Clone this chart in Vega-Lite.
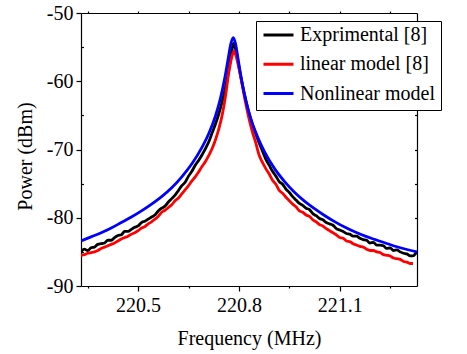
{
  "$schema": "https://vega.github.io/schema/vega-lite/v6.json",
  "width": 336,
  "height": 273,
  "autosize": {"type": "none"},
  "padding": {"left": 81, "top": 13, "right": 50, "bottom": 68},
  "background": "white",
  "config": {
    "view": {"stroke": null},
    "font": "Liberation Serif",
    "axis": {"domainColor": "black", "tickColor": "black", "labelColor": "black", "titleColor": "black", "grid": false, "domainWidth": 1.2, "tickWidth": 1.2, "labelFont": "Liberation Serif", "titleFont": "Liberation Serif"},
    "legend": {"labelFont": "Liberation Serif"}
  },
  "datasets": {
    "curves": [
      {"f": 220.33, "p": -85.0, "s": "Exprimental [8]"},
      {"f": 220.34, "p": -84.6, "s": "Exprimental [8]"},
      {"f": 220.35, "p": -84.8, "s": "Exprimental [8]"},
      {"f": 220.36, "p": -84.4, "s": "Exprimental [8]"},
      {"f": 220.37, "p": -84.3, "s": "Exprimental [8]"},
      {"f": 220.38, "p": -83.9, "s": "Exprimental [8]"},
      {"f": 220.39, "p": -83.8, "s": "Exprimental [8]"},
      {"f": 220.40, "p": -83.7, "s": "Exprimental [8]"},
      {"f": 220.41, "p": -83.3, "s": "Exprimental [8]"},
      {"f": 220.42, "p": -83.3, "s": "Exprimental [8]"},
      {"f": 220.43, "p": -82.9, "s": "Exprimental [8]"},
      {"f": 220.44, "p": -82.6, "s": "Exprimental [8]"},
      {"f": 220.45, "p": -82.5, "s": "Exprimental [8]"},
      {"f": 220.46, "p": -82.0, "s": "Exprimental [8]"},
      {"f": 220.47, "p": -82.0, "s": "Exprimental [8]"},
      {"f": 220.48, "p": -81.7, "s": "Exprimental [8]"},
      {"f": 220.49, "p": -81.4, "s": "Exprimental [8]"},
      {"f": 220.50, "p": -81.2, "s": "Exprimental [8]"},
      {"f": 220.51, "p": -80.7, "s": "Exprimental [8]"},
      {"f": 220.52, "p": -80.5, "s": "Exprimental [8]"},
      {"f": 220.53, "p": -80.2, "s": "Exprimental [8]"},
      {"f": 220.54, "p": -79.9, "s": "Exprimental [8]"},
      {"f": 220.55, "p": -79.6, "s": "Exprimental [8]"},
      {"f": 220.56, "p": -79.0, "s": "Exprimental [8]"},
      {"f": 220.57, "p": -78.6, "s": "Exprimental [8]"},
      {"f": 220.58, "p": -78.3, "s": "Exprimental [8]"},
      {"f": 220.59, "p": -77.7, "s": "Exprimental [8]"},
      {"f": 220.60, "p": -77.2, "s": "Exprimental [8]"},
      {"f": 220.61, "p": -76.7, "s": "Exprimental [8]"},
      {"f": 220.62, "p": -76.0, "s": "Exprimental [8]"},
      {"f": 220.63, "p": -75.3, "s": "Exprimental [8]"},
      {"f": 220.64, "p": -74.8, "s": "Exprimental [8]"},
      {"f": 220.65, "p": -73.9, "s": "Exprimental [8]"},
      {"f": 220.66, "p": -73.2, "s": "Exprimental [8]"},
      {"f": 220.67, "p": -72.3, "s": "Exprimental [8]"},
      {"f": 220.68, "p": -71.6, "s": "Exprimental [8]"},
      {"f": 220.69, "p": -70.8, "s": "Exprimental [8]"},
      {"f": 220.70, "p": -69.9, "s": "Exprimental [8]"},
      {"f": 220.71, "p": -68.9, "s": "Exprimental [8]"},
      {"f": 220.72, "p": -67.6, "s": "Exprimental [8]"},
      {"f": 220.73, "p": -66.3, "s": "Exprimental [8]"},
      {"f": 220.74, "p": -64.8, "s": "Exprimental [8]"},
      {"f": 220.75, "p": -63.0, "s": "Exprimental [8]"},
      {"f": 220.76, "p": -60.9, "s": "Exprimental [8]"},
      {"f": 220.77, "p": -58.3, "s": "Exprimental [8]"},
      {"f": 220.778, "p": -55.8, "s": "Exprimental [8]"},
      {"f": 220.784, "p": -54.4, "s": "Exprimental [8]"},
      {"f": 220.79, "p": -55.3, "s": "Exprimental [8]"},
      {"f": 220.797, "p": -57.0, "s": "Exprimental [8]"},
      {"f": 220.805, "p": -59.2, "s": "Exprimental [8]"},
      {"f": 220.815, "p": -61.6, "s": "Exprimental [8]"},
      {"f": 220.828, "p": -64.3, "s": "Exprimental [8]"},
      {"f": 220.84, "p": -66.3, "s": "Exprimental [8]"},
      {"f": 220.85, "p": -67.7, "s": "Exprimental [8]"},
      {"f": 220.86, "p": -69.0, "s": "Exprimental [8]"},
      {"f": 220.87, "p": -70.2, "s": "Exprimental [8]"},
      {"f": 220.88, "p": -71.4, "s": "Exprimental [8]"},
      {"f": 220.89, "p": -72.3, "s": "Exprimental [8]"},
      {"f": 220.90, "p": -73.2, "s": "Exprimental [8]"},
      {"f": 220.91, "p": -73.9, "s": "Exprimental [8]"},
      {"f": 220.92, "p": -74.7, "s": "Exprimental [8]"},
      {"f": 220.93, "p": -75.1, "s": "Exprimental [8]"},
      {"f": 220.94, "p": -75.8, "s": "Exprimental [8]"},
      {"f": 220.95, "p": -76.3, "s": "Exprimental [8]"},
      {"f": 220.96, "p": -76.9, "s": "Exprimental [8]"},
      {"f": 220.97, "p": -77.4, "s": "Exprimental [8]"},
      {"f": 220.98, "p": -77.9, "s": "Exprimental [8]"},
      {"f": 220.99, "p": -78.2, "s": "Exprimental [8]"},
      {"f": 221.00, "p": -78.6, "s": "Exprimental [8]"},
      {"f": 221.01, "p": -78.8, "s": "Exprimental [8]"},
      {"f": 221.02, "p": -79.4, "s": "Exprimental [8]"},
      {"f": 221.03, "p": -79.7, "s": "Exprimental [8]"},
      {"f": 221.04, "p": -80.1, "s": "Exprimental [8]"},
      {"f": 221.05, "p": -80.3, "s": "Exprimental [8]"},
      {"f": 221.06, "p": -80.7, "s": "Exprimental [8]"},
      {"f": 221.07, "p": -80.9, "s": "Exprimental [8]"},
      {"f": 221.08, "p": -81.1, "s": "Exprimental [8]"},
      {"f": 221.09, "p": -81.6, "s": "Exprimental [8]"},
      {"f": 221.10, "p": -81.8, "s": "Exprimental [8]"},
      {"f": 221.11, "p": -82.0, "s": "Exprimental [8]"},
      {"f": 221.12, "p": -82.3, "s": "Exprimental [8]"},
      {"f": 221.13, "p": -82.4, "s": "Exprimental [8]"},
      {"f": 221.14, "p": -82.7, "s": "Exprimental [8]"},
      {"f": 221.15, "p": -82.7, "s": "Exprimental [8]"},
      {"f": 221.16, "p": -83.0, "s": "Exprimental [8]"},
      {"f": 221.17, "p": -83.2, "s": "Exprimental [8]"},
      {"f": 221.18, "p": -83.3, "s": "Exprimental [8]"},
      {"f": 221.19, "p": -83.7, "s": "Exprimental [8]"},
      {"f": 221.20, "p": -83.6, "s": "Exprimental [8]"},
      {"f": 221.21, "p": -84.0, "s": "Exprimental [8]"},
      {"f": 221.22, "p": -84.0, "s": "Exprimental [8]"},
      {"f": 221.23, "p": -84.1, "s": "Exprimental [8]"},
      {"f": 221.24, "p": -84.5, "s": "Exprimental [8]"},
      {"f": 221.25, "p": -84.4, "s": "Exprimental [8]"},
      {"f": 221.26, "p": -84.8, "s": "Exprimental [8]"},
      {"f": 221.27, "p": -84.7, "s": "Exprimental [8]"},
      {"f": 221.28, "p": -85.0, "s": "Exprimental [8]"},
      {"f": 221.29, "p": -85.2, "s": "Exprimental [8]"},
      {"f": 221.30, "p": -85.3, "s": "Exprimental [8]"},
      {"f": 221.31, "p": -85.6, "s": "Exprimental [8]"},
      {"f": 221.318, "p": -85.6, "s": "Exprimental [8]"},
      {"f": 221.325, "p": -85.3, "s": "Exprimental [8]"},
      {"f": 221.33, "p": -84.9, "s": "Exprimental [8]"},

      {"f": 220.33, "p": -85.5, "s": "linear model [8]"},
      {"f": 220.34, "p": -85.4, "s": "linear model [8]"},
      {"f": 220.35, "p": -85.2, "s": "linear model [8]"},
      {"f": 220.36, "p": -85.1, "s": "linear model [8]"},
      {"f": 220.37, "p": -85.0, "s": "linear model [8]"},
      {"f": 220.38, "p": -84.8, "s": "linear model [8]"},
      {"f": 220.39, "p": -84.5, "s": "linear model [8]"},
      {"f": 220.40, "p": -84.3, "s": "linear model [8]"},
      {"f": 220.41, "p": -84.1, "s": "linear model [8]"},
      {"f": 220.42, "p": -83.9, "s": "linear model [8]"},
      {"f": 220.43, "p": -83.7, "s": "linear model [8]"},
      {"f": 220.44, "p": -83.4, "s": "linear model [8]"},
      {"f": 220.45, "p": -83.1, "s": "linear model [8]"},
      {"f": 220.46, "p": -82.9, "s": "linear model [8]"},
      {"f": 220.47, "p": -82.7, "s": "linear model [8]"},
      {"f": 220.48, "p": -82.4, "s": "linear model [8]"},
      {"f": 220.49, "p": -82.2, "s": "linear model [8]"},
      {"f": 220.50, "p": -81.9, "s": "linear model [8]"},
      {"f": 220.51, "p": -81.5, "s": "linear model [8]"},
      {"f": 220.52, "p": -81.3, "s": "linear model [8]"},
      {"f": 220.53, "p": -80.9, "s": "linear model [8]"},
      {"f": 220.54, "p": -80.6, "s": "linear model [8]"},
      {"f": 220.55, "p": -80.2, "s": "linear model [8]"},
      {"f": 220.56, "p": -79.8, "s": "linear model [8]"},
      {"f": 220.57, "p": -79.2, "s": "linear model [8]"},
      {"f": 220.58, "p": -78.9, "s": "linear model [8]"},
      {"f": 220.59, "p": -78.5, "s": "linear model [8]"},
      {"f": 220.60, "p": -78.1, "s": "linear model [8]"},
      {"f": 220.61, "p": -77.5, "s": "linear model [8]"},
      {"f": 220.62, "p": -77.1, "s": "linear model [8]"},
      {"f": 220.63, "p": -76.5, "s": "linear model [8]"},
      {"f": 220.64, "p": -75.9, "s": "linear model [8]"},
      {"f": 220.65, "p": -75.3, "s": "linear model [8]"},
      {"f": 220.66, "p": -74.6, "s": "linear model [8]"},
      {"f": 220.67, "p": -74.0, "s": "linear model [8]"},
      {"f": 220.68, "p": -73.3, "s": "linear model [8]"},
      {"f": 220.69, "p": -72.5, "s": "linear model [8]"},
      {"f": 220.70, "p": -71.8, "s": "linear model [8]"},
      {"f": 220.71, "p": -70.9, "s": "linear model [8]"},
      {"f": 220.72, "p": -69.9, "s": "linear model [8]"},
      {"f": 220.73, "p": -68.6, "s": "linear model [8]"},
      {"f": 220.74, "p": -67.0, "s": "linear model [8]"},
      {"f": 220.75, "p": -65.0, "s": "linear model [8]"},
      {"f": 220.76, "p": -62.2, "s": "linear model [8]"},
      {"f": 220.77, "p": -58.7, "s": "linear model [8]"},
      {"f": 220.778, "p": -56.6, "s": "linear model [8]"},
      {"f": 220.785, "p": -55.6, "s": "linear model [8]"},
      {"f": 220.79, "p": -56.1, "s": "linear model [8]"},
      {"f": 220.796, "p": -57.2, "s": "linear model [8]"},
      {"f": 220.803, "p": -58.8, "s": "linear model [8]"},
      {"f": 220.81, "p": -60.6, "s": "linear model [8]"},
      {"f": 220.82, "p": -63.2, "s": "linear model [8]"},
      {"f": 220.83, "p": -65.5, "s": "linear model [8]"},
      {"f": 220.84, "p": -67.4, "s": "linear model [8]"},
      {"f": 220.85, "p": -69.0, "s": "linear model [8]"},
      {"f": 220.86, "p": -70.8, "s": "linear model [8]"},
      {"f": 220.87, "p": -71.9, "s": "linear model [8]"},
      {"f": 220.88, "p": -72.8, "s": "linear model [8]"},
      {"f": 220.89, "p": -73.6, "s": "linear model [8]"},
      {"f": 220.90, "p": -74.5, "s": "linear model [8]"},
      {"f": 220.91, "p": -75.1, "s": "linear model [8]"},
      {"f": 220.92, "p": -76.0, "s": "linear model [8]"},
      {"f": 220.93, "p": -76.4, "s": "linear model [8]"},
      {"f": 220.94, "p": -77.0, "s": "linear model [8]"},
      {"f": 220.95, "p": -77.5, "s": "linear model [8]"},
      {"f": 220.96, "p": -78.0, "s": "linear model [8]"},
      {"f": 220.97, "p": -78.4, "s": "linear model [8]"},
      {"f": 220.98, "p": -79.0, "s": "linear model [8]"},
      {"f": 220.99, "p": -79.2, "s": "linear model [8]"},
      {"f": 221.00, "p": -79.6, "s": "linear model [8]"},
      {"f": 221.01, "p": -79.8, "s": "linear model [8]"},
      {"f": 221.02, "p": -80.3, "s": "linear model [8]"},
      {"f": 221.03, "p": -80.6, "s": "linear model [8]"},
      {"f": 221.04, "p": -81.0, "s": "linear model [8]"},
      {"f": 221.05, "p": -81.2, "s": "linear model [8]"},
      {"f": 221.06, "p": -81.6, "s": "linear model [8]"},
      {"f": 221.07, "p": -81.9, "s": "linear model [8]"},
      {"f": 221.08, "p": -82.2, "s": "linear model [8]"},
      {"f": 221.09, "p": -82.5, "s": "linear model [8]"},
      {"f": 221.10, "p": -82.9, "s": "linear model [8]"},
      {"f": 221.11, "p": -83.0, "s": "linear model [8]"},
      {"f": 221.12, "p": -83.4, "s": "linear model [8]"},
      {"f": 221.13, "p": -83.5, "s": "linear model [8]"},
      {"f": 221.14, "p": -83.8, "s": "linear model [8]"},
      {"f": 221.15, "p": -84.0, "s": "linear model [8]"},
      {"f": 221.16, "p": -84.2, "s": "linear model [8]"},
      {"f": 221.17, "p": -84.3, "s": "linear model [8]"},
      {"f": 221.18, "p": -84.6, "s": "linear model [8]"},
      {"f": 221.19, "p": -84.8, "s": "linear model [8]"},
      {"f": 221.20, "p": -84.8, "s": "linear model [8]"},
      {"f": 221.21, "p": -85.0, "s": "linear model [8]"},
      {"f": 221.22, "p": -85.1, "s": "linear model [8]"},
      {"f": 221.23, "p": -85.4, "s": "linear model [8]"},
      {"f": 221.24, "p": -85.5, "s": "linear model [8]"},
      {"f": 221.25, "p": -85.6, "s": "linear model [8]"},
      {"f": 221.26, "p": -85.9, "s": "linear model [8]"},
      {"f": 221.27, "p": -86.0, "s": "linear model [8]"},
      {"f": 221.28, "p": -86.1, "s": "linear model [8]"},
      {"f": 221.29, "p": -86.4, "s": "linear model [8]"},
      {"f": 221.30, "p": -86.5, "s": "linear model [8]"},
      {"f": 221.31, "p": -86.7, "s": "linear model [8]"},
      {"f": 221.318, "p": -86.7, "s": "linear model [8]"},

      {"f": 220.33, "p": -83.4, "s": "Nonlinear model"},
      {"f": 220.36, "p": -82.8, "s": "Nonlinear model"},
      {"f": 220.39, "p": -82.2, "s": "Nonlinear model"},
      {"f": 220.42, "p": -81.5, "s": "Nonlinear model"},
      {"f": 220.45, "p": -80.7, "s": "Nonlinear model"},
      {"f": 220.48, "p": -79.9, "s": "Nonlinear model"},
      {"f": 220.51, "p": -79.0, "s": "Nonlinear model"},
      {"f": 220.54, "p": -78.0, "s": "Nonlinear model"},
      {"f": 220.57, "p": -76.9, "s": "Nonlinear model"},
      {"f": 220.60, "p": -75.6, "s": "Nonlinear model"},
      {"f": 220.63, "p": -74.0, "s": "Nonlinear model"},
      {"f": 220.66, "p": -72.1, "s": "Nonlinear model"},
      {"f": 220.69, "p": -69.7, "s": "Nonlinear model"},
      {"f": 220.71, "p": -67.7, "s": "Nonlinear model"},
      {"f": 220.73, "p": -65.1, "s": "Nonlinear model"},
      {"f": 220.745, "p": -62.5, "s": "Nonlinear model"},
      {"f": 220.758, "p": -59.5, "s": "Nonlinear model"},
      {"f": 220.768, "p": -56.7, "s": "Nonlinear model"},
      {"f": 220.776, "p": -54.5, "s": "Nonlinear model"},
      {"f": 220.783, "p": -53.6, "s": "Nonlinear model"},
      {"f": 220.79, "p": -54.5, "s": "Nonlinear model"},
      {"f": 220.798, "p": -56.9, "s": "Nonlinear model"},
      {"f": 220.808, "p": -59.8, "s": "Nonlinear model"},
      {"f": 220.821, "p": -62.9, "s": "Nonlinear model"},
      {"f": 220.836, "p": -65.6, "s": "Nonlinear model"},
      {"f": 220.856, "p": -68.2, "s": "Nonlinear model"},
      {"f": 220.876, "p": -70.3, "s": "Nonlinear model"},
      {"f": 220.906, "p": -72.8, "s": "Nonlinear model"},
      {"f": 220.936, "p": -74.7, "s": "Nonlinear model"},
      {"f": 220.966, "p": -76.3, "s": "Nonlinear model"},
      {"f": 220.996, "p": -77.6, "s": "Nonlinear model"},
      {"f": 221.026, "p": -78.7, "s": "Nonlinear model"},
      {"f": 221.056, "p": -79.7, "s": "Nonlinear model"},
      {"f": 221.086, "p": -80.6, "s": "Nonlinear model"},
      {"f": 221.116, "p": -81.4, "s": "Nonlinear model"},
      {"f": 221.146, "p": -82.1, "s": "Nonlinear model"},
      {"f": 221.176, "p": -82.7, "s": "Nonlinear model"},
      {"f": 221.206, "p": -83.2, "s": "Nonlinear model"},
      {"f": 221.236, "p": -83.7, "s": "Nonlinear model"},
      {"f": 221.27, "p": -84.25, "s": "Nonlinear model"},
      {"f": 221.30, "p": -84.65, "s": "Nonlinear model"},
      {"f": 221.33, "p": -85.0, "s": "Nonlinear model"}
    ]
  },
  "data": {"name": "curves"},
  "layer": [
    {
      "mark": {"type": "line", "strokeWidth": 2.8, "interpolate": "monotone", "clip": true},
      "encoding": {
        "x": {
          "field": "f", "type": "quantitative",
          "scale": {"domain": [220.33, 221.33], "nice": false, "zero": false},
          "axis": {
            "orient": "bottom", "values": [220.5, 220.8, 221.1], "labelExpr": "format(datum.value, '.1f')",
            "tickSize": 5, "labelPadding": 4, "labelFontSize": 20, "labelFont": "Liberation Serif",
            "title": "Frequency (MHz)", "titleFontSize": 20, "titleFontWeight": "normal", "titleFont": "Liberation Serif",
            "titleBaseline": "alphabetic", "titleY": 58, "titlePadding": 0
          }
        },
        "y": {
          "field": "p", "type": "quantitative",
          "scale": {"domain": [-90, -50], "nice": false, "zero": false},
          "axis": {
            "orient": "left", "values": [-90, -80, -70, -60, -50],
            "labelExpr": "'-' + abs(datum.value)",
            "tickSize": 5, "labelPadding": 3, "labelFontSize": 20, "labelFont": "Liberation Serif",
            "title": "Power (dBm)", "titleFontSize": 20, "titleFontWeight": "normal", "titleFont": "Liberation Serif",
            "titleAngle": -90, "titleAlign": "center", "titleBaseline": "middle", "titleX": -56, "titleY": 143
          }
        },
        "color": {
          "field": "s", "type": "nominal",
          "scale": {"domain": ["Exprimental [8]", "linear model [8]", "Nonlinear model"], "range": ["#000000", "#ff0000", "#0000ff"]},
          "legend": {
            "title": null, "orient": "none", "legendX": 175, "legendY": 8,
            "symbolType": "stroke", "symbolSize": 900, "symbolStrokeWidth": 3,
            "labelFontSize": 20, "labelFont": "Liberation Serif", "labelColor": "black", "labelOffset": 5, "labelLimit": 300,
            "clipHeight": 16, "rowPadding": 9.3, "padding": 6,
            "strokeColor": "black", "fillColor": "white"
          }
        }
      }
    },
    {
      "mark": {"type": "line", "strokeOpacity": 0},
      "encoding": {
        "x": {
          "field": "f", "type": "quantitative",
          "scale": {"domain": [220.33, 221.33], "nice": false, "zero": false},
          "axis": {"orient": "top", "values": [220.35, 220.5, 220.65, 220.8, 220.95, 221.1, 221.25], "labels": false, "tickSize": 2, "title": null}
        },
        "y": {
          "field": "p", "type": "quantitative",
          "scale": {"domain": [-90, -50], "nice": false, "zero": false},
          "axis": {"orient": "right", "values": [-85, -80, -75, -70, -65, -60, -55], "labels": false, "tickSize": -2.5, "title": null}
        },
        "detail": {"field": "s"}
      }
    },
    {
      "mark": {"type": "line", "strokeOpacity": 0},
      "encoding": {
        "x": {
          "field": "f", "type": "quantitative",
          "scale": {"domain": [220.33, 221.33], "nice": false, "zero": false},
          "axis": {"orient": "bottom", "values": [220.35, 220.65, 220.95, 221.25], "labels": false, "domain": false, "tickSize": 2, "title": null}
        },
        "y": {
          "field": "p", "type": "quantitative",
          "scale": {"domain": [-90, -50], "nice": false, "zero": false},
          "axis": {"orient": "left", "values": [-85, -75, -65, -55], "labels": false, "domain": false, "tickSize": -2.5, "title": null}
        },
        "detail": {"field": "s"}
      }
    }
  ],
  "resolve": {"axis": {"x": "independent", "y": "independent"}}
}
